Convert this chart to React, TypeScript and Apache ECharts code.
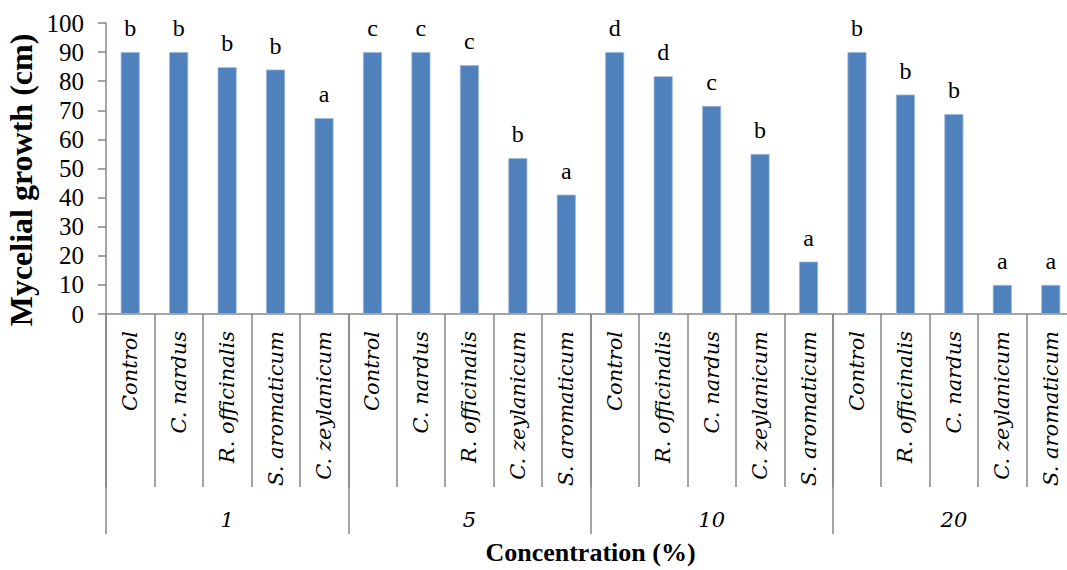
import React, { useEffect, useRef } from "react";
import * as echarts from "echarts";

const groups = ["1", "5", "10", "20"];
const treatments = [
  "Control", "C. nardus", "R. officinalis", "S. aromaticum", "C. zeylanicum",
  "Control", "C. nardus", "R. officinalis", "C. zeylanicum", "S. aromaticum",
  "Control", "R. officinalis", "C. nardus", "C. zeylanicum", "S. aromaticum",
  "Control", "R. officinalis", "C. nardus", "C. zeylanicum", "S. aromaticum",
];
const values = [
  90, 90, 84.8, 84, 67.3,
  90, 90, 85.5, 53.6, 41,
  90, 81.7, 71.5, 55, 18,
  90, 75.4, 68.7, 10, 10,
];
const letters = [
  "b", "b", "b", "b", "a",
  "c", "c", "c", "b", "a",
  "d", "d", "c", "b", "a",
  "b", "b", "b", "a", "a",
];
const yTicks = { min: 0, max: 100, interval: 10 };

const SERIF = "Liberation Serif";
const ITALIC_SERIF = "DejaVu Serif";
const AXIS_GRAY = "#868686";

export default function App() {
  const ref = useRef<HTMLDivElement>(null);
  useEffect(() => {
    if (!ref.current) return;
    const chart = echarts.init(ref.current, undefined, { renderer: "svg", width: 1067, height: 570 });
    chart.setOption({
      animation: false,
      backgroundColor: "#ffffff",
      textStyle: { fontFamily: SERIF },
      grid: {
        left: 106,
        top: 23,
        width: 969,
        height: 291,
        containLabel: false,
        outerBoundsMode: "none",
      },
      graphic: [
        {
          type: "text",
          x: 21,
          y: 180,
          rotation: Math.PI / 2,
          style: {
            text: "Mycelial growth (cm)",
            font: `bold 32px ${SERIF}`,
            fill: "#000",
            align: "center",
            verticalAlign: "middle",
          },
        },
      ],
      xAxis: [
        {
          type: "category",
          data: treatments,
          boundaryGap: true,
          axisLine: { show: true, lineStyle: { color: AXIS_GRAY, width: 1.5 } },
          axisTick: { show: true, interval: 0, length: 173, lineStyle: { color: AXIS_GRAY, width: 1.5 } },
          axisLabel: {
            interval: 0,
            rotate: 90,
            margin: 17,
            fontFamily: ITALIC_SERIF,
            fontStyle: "italic",
            fontSize: 21,
            color: "#000",
          },
          splitLine: { show: false },
        },
        {
          type: "category",
          data: groups,
          position: "bottom",
          offset: 0,
          boundaryGap: true,
          axisLine: { show: false },
          axisTick: { show: true, interval: 0, length: 220, lineStyle: { color: AXIS_GRAY, width: 1.5 } },
          axisLabel: {
            interval: 0,
            margin: 195,
            fontFamily: ITALIC_SERIF,
            fontStyle: "italic",
            fontSize: 21,
            color: "#000",
          },
          name: "Concentration (%)",
          nameLocation: "middle",
          nameGap: 225,
          nameTextStyle: { fontFamily: SERIF, fontWeight: "bold", fontSize: 26, color: "#000" },
          splitLine: { show: false },
        },
      ],
      yAxis: {
        type: "value",
        min: yTicks.min,
        max: yTicks.max,
        interval: yTicks.interval,
        axisLine: { show: true, lineStyle: { color: AXIS_GRAY, width: 1.5 } },
        axisTick: { show: true, length: 8, lineStyle: { color: AXIS_GRAY, width: 1.5 } },
        axisLabel: { margin: 22, fontFamily: SERIF, fontSize: 25, color: "#000" },
        splitLine: { show: false },
      },
      series: [
        {
          type: "bar",
          xAxisIndex: 0,
          data: values,
          barWidth: 19,
          itemStyle: { color: "#4F81BD", borderColor: "#9BB5D8", borderWidth: 0.8 },
          label: {
            show: true,
            position: "top",
            distance: 12,
            formatter: (p: any) => letters[p.dataIndex],
            fontFamily: SERIF,
            fontSize: 24,
            color: "#000",
          },
        },
      ],
    });
    return () => chart.dispose();
  }, []);
  return (
    <div
      ref={ref}
      style={{ position: "fixed", left: 0, top: 0, width: 1067, height: 570, background: "#fff" }}
    />
  );
}
